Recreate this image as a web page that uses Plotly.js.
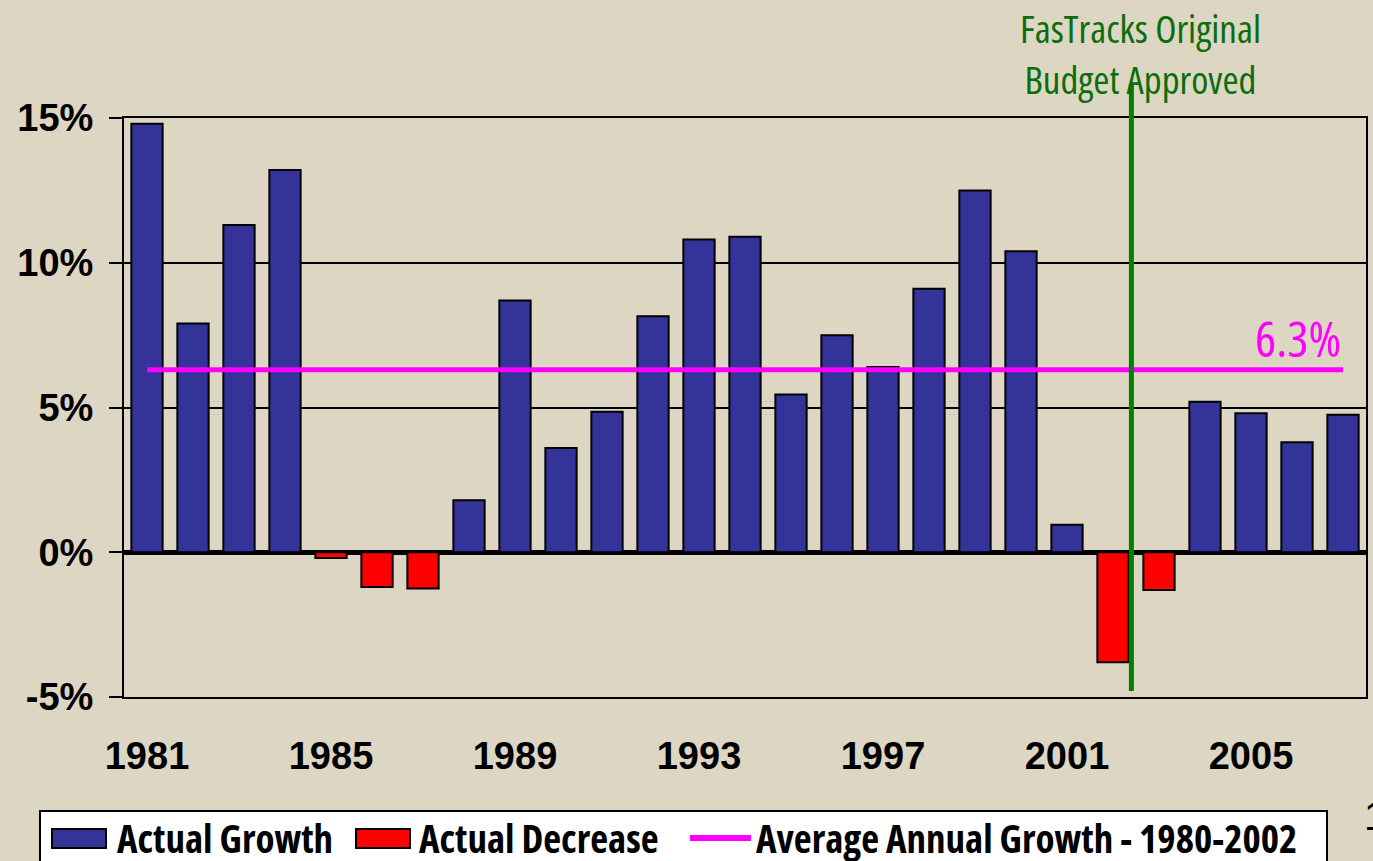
<!DOCTYPE html>
<html>
<head>
<meta charset="utf-8">
<script src="https://cdn.plot.ly/plotly-3.0.1.min.js"></script>
<style>
  html, body { margin: 0; padding: 0; background: #DDD6C3; }
  #chart { width: 1373px; height: 861px; }
</style>
</head>
<body>
<div id="chart"></div>
<script>
// ---- data ----
const years = [1981,1982,1983,1984,1985,1986,1987,1988,1989,1990,1991,1992,1993,1994,
               1995,1996,1997,1998,1999,2000,2001,2002,2003,2004,2005,2006,2007];
const growth = [14.8,7.9,11.3,13.2,-0.2,-1.2,-1.25,1.8,8.7,3.6,4.85,8.15,10.8,10.9,
                5.45,7.5,6.4,9.1,12.5,10.4,0.95,-3.8,-1.3,5.2,4.8,3.8,4.75];
const averageGrowth = 6.3;
const averageYears = [1981, 2007];
const approvalYear = 2002.4;
const xTickVals = [1981,1985,1989,1993,1997,2001,2005];
const yTickVals = [-5,0,5,10,15];
const seriesNames = ['Actual Growth','Actual Decrease','Average Annual Growth - 1980-2002'];
const approvalLines = ['FasTracks Original','Budget Approved'];

// ---- colours / geometry ----
const BG = '#DDD6C3';
const BLUE = '#333399', RED = '#FF0000', MAGENTA = '#FF00FF', GREEN = '#008000', TXTGREEN = '#0B6E0B';
const L = 124, R = 1366, T = 118, B = 697;
const px = v => (v - L) / (R - L);
const py = v => (B - v) / (B - T);

// ---- choose a narrow font that exists, and fit sizes to the reference widths ----
const cv = document.createElement('canvas').getContext('2d');
function measure(text, family, weight, stretch) {
  cv.font = weight + ' 100px ' + family;
  if ('fontStretch' in cv) cv.fontStretch = stretch;
  return cv.measureText(text).width;
}
const candidates = [
  { family: '"Liberation Sans Narrow"', stretch: 'normal' },
  { family: '"Noto Sans"', stretch: 'condensed' },
  { family: '"Open Sans"', stretch: 'condensed' },
  { family: '"Liberation Sans"', stretch: 'normal' }
];
const probe = seriesNames[2];
let best = candidates[candidates.length - 1], bestW = Infinity;
candidates.forEach(c => {
  const w = measure(probe, c.family, 'bold', c.stretch);
  if (w < bestW - 1) { bestW = w; best = c; }
});
const NARROW = best.family.replace(/"/g, '') + ', Liberation Sans, Arial, sans-serif';
if (best.stretch !== 'normal') {
  const st = document.createElement('style');
  st.textContent = '.annotation-text, .annotation-text tspan { font-stretch: ' + best.stretch + '; }';
  document.head.appendChild(st);
}
function fit(text, weight, targetW, maxSize) {
  const w = measure(text, best.family, weight, best.stretch);
  return Math.min(maxSize, Math.floor(targetW / w * 100 * 10) / 10);
}

const posX = [], posY = [], negX = [], negY = [];
years.forEach((yr, i) => {
  if (growth[i] >= 0) { posX.push(yr); posY.push(growth[i]); }
  else { negX.push(yr); negY.push(growth[i]); }
});

const traces = [
  { type: 'bar', x: posX, y: posY, name: seriesNames[0], width: 0.68,
    marker: { color: BLUE, line: { color: '#000', width: 2 } }, hoverinfo: 'x+y' },
  { type: 'bar', x: negX, y: negY, name: seriesNames[1], width: 0.68,
    marker: { color: RED, line: { color: '#000', width: 2 } }, hoverinfo: 'x+y' },
  { type: 'scatter', mode: 'lines', x: averageYears, y: [averageGrowth, averageGrowth],
    name: seriesNames[2], line: { color: MAGENTA, width: 5 }, hoverinfo: 'y' }
];

const tickFont = { family: 'Liberation Sans, Arial, sans-serif', size: 38, color: '#000', weight: 'bold' };
const legSize = Math.min(fit(seriesNames[0], 'bold', 217, 39), fit(seriesNames[1], 'bold', 252, 39), fit(seriesNames[2], 'bold', 559, 39));
const narrowBold = { family: NARROW, size: legSize, color: '#000', weight: 'bold' };
const titleSize = fit(approvalLines[0], 'normal', 273, 39);
const avgText = averageGrowth.toFixed(1) + '%';
const avgSize = fit(avgText, 'normal', 97, 50);

const legTop = 811, legMid = 837;
const shapes = [
  { type: 'line', xref: 'x', yref: 'paper', x0: approvalYear, x1: approvalYear,
    y0: py(84), y1: py(691), line: { color: GREEN, width: 5 }, layer: 'above' },
  { type: 'rect', xref: 'paper', yref: 'paper', x0: px(40), x1: px(1327), y0: py(legTop), y1: py(875),
    fillcolor: '#FFFFFF', line: { color: '#000', width: 2 } },
  { type: 'rect', xref: 'paper', yref: 'paper', x0: px(52), x1: px(106), y0: py(829), y1: py(848),
    fillcolor: BLUE, line: { color: '#000', width: 2 } },
  { type: 'rect', xref: 'paper', yref: 'paper', x0: px(356), x1: px(410), y0: py(829), y1: py(848),
    fillcolor: RED, line: { color: '#000', width: 2 } },
  { type: 'line', xref: 'paper', yref: 'paper', x0: px(690), x1: px(751), y0: py(838), y1: py(838),
    line: { color: MAGENTA, width: 6 } }
];

const annotations = [
  { xref: 'paper', yref: 'paper', x: px(1140), y: py(0), xanchor: 'center', yanchor: 'top',
    borderpad: 0, text: approvalLines.join('<br>'), showarrow: false,
    font: { family: NARROW, size: titleSize, color: TXTGREEN } },
  { xref: 'x', yref: 'y', x: averageYears[1], y: averageGrowth, xanchor: 'right', yanchor: 'bottom',
    yshift: -4, text: avgText, showarrow: false,
    font: { family: NARROW, size: avgSize, color: MAGENTA } },
  { xref: 'paper', yref: 'paper', x: px(116), y: py(legMid), xanchor: 'left', yanchor: 'middle',
    borderpad: 0, text: seriesNames[0], showarrow: false, font: narrowBold },
  { xref: 'paper', yref: 'paper', x: px(418), y: py(legMid), xanchor: 'left', yanchor: 'middle',
    borderpad: 0, text: seriesNames[1], showarrow: false, font: narrowBold },
  { xref: 'paper', yref: 'paper', x: px(755), y: py(legMid), xanchor: 'left', yanchor: 'middle',
    borderpad: 0, text: seriesNames[2], showarrow: false, font: narrowBold },
  { xref: 'paper', yref: 'paper', x: px(1362), y: py(792), xanchor: 'left', yanchor: 'top',
    text: '1', showarrow: false, font: { family: 'Liberation Sans, Arial', size: 40, color: '#000' } }
];

const layout = {
  width: 1373, height: 861,
  paper_bgcolor: BG, plot_bgcolor: BG,
  margin: { l: L, r: 1373 - R, t: T, b: 861 - B, pad: 0 },
  showlegend: false,
  barmode: 'overlay',
  xaxis: {
    range: [years[0] - 0.5, years[years.length - 1] + 0.5],
    tickvals: xTickVals, ticktext: xTickVals.map(String),
    ticks: 'outside', ticklen: 24, tickcolor: 'rgba(0,0,0,0)',
    tickfont: tickFont, showgrid: false, zeroline: false,
    showline: true, linecolor: '#000', linewidth: 2, mirror: true
  },
  yaxis: {
    range: [-5, 15], tickvals: yTickVals, ticktext: yTickVals.map(v => v + '%'),
    ticks: 'outside', ticklen: 13, tickwidth: 2, tickcolor: '#000',
    tickfont: tickFont, ticklabelstandoff: 8,
    showgrid: true, gridcolor: '#000', gridwidth: 2,
    zeroline: true, zerolinecolor: '#000', zerolinewidth: 5,
    showline: true, linecolor: '#000', linewidth: 2, mirror: true
  },
  shapes: shapes,
  annotations: annotations
};

Plotly.newPlot('chart', traces, layout, { displayModeBar: false });
</script>
</body>
</html>
